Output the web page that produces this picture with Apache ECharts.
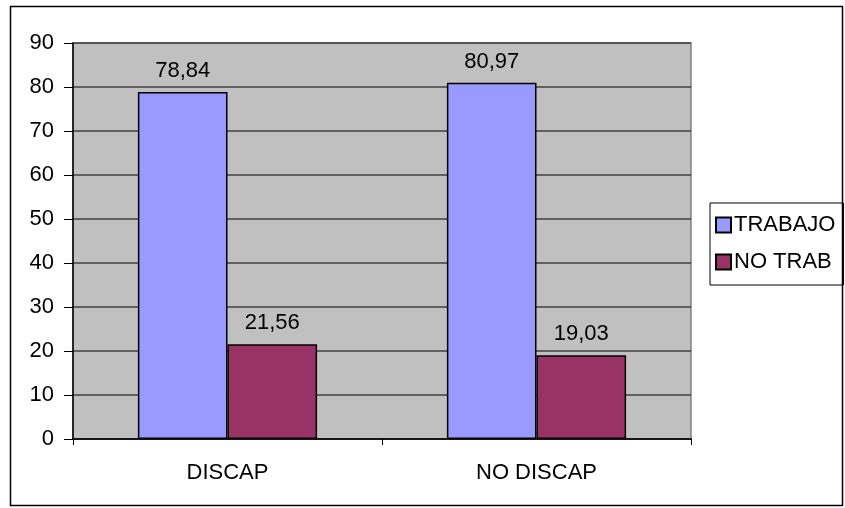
<!DOCTYPE html>
<html>
<head>
<meta charset="utf-8">
<script src="https://cdn.jsdelivr.net/npm/echarts@6/dist/echarts.min.js"></script>
<style>
html, body { margin: 0; padding: 0; background: #fff; }
#chart { width: 845px; height: 508px; }
</style>
</head>
<body>
<div id="chart"></div>
<script>
var categories = ['DISCAP', 'NO DISCAP'];
var trabajo = [78.84, 80.97];
var noTrab = [21.56, 19.03];
var yTicks = [0, 10, 20, 30, 40, 50, 60, 70, 80, 90];

var myechart = echarts.init(document.getElementById('chart'));
var font = 'Arial, "Liberation Sans", sans-serif';

function fmt(p) {
  return String(p.value.toFixed(2)).replace('.', ',');
}

myechart.setOption({
  animation: false,
  textStyle: { fontFamily: font },
  graphic: [
    {
      type: 'rect',
      shape: { x: 10.5, y: 6.5, width: 832, height: 499 },
      style: { fill: 'none', stroke: '#000', lineWidth: 1.5 },
      silent: true
    }
  ],
  legend: {
    orient: 'vertical',
    left: 710,
    top: 203,
    padding: [11, 8, 12, 5],
    itemGap: 15,
    itemWidth: 15,
    itemHeight: 15,
    borderColor: '#000',
    borderWidth: 1,
    icon: 'rect',
    textStyle: { fontFamily: font, fontSize: 22, color: '#000', padding: [0, 0, 0, -2] },
    data: ['TRABAJO', 'NO TRAB']
  },
  grid: {
    left: 73,
    top: 43,
    width: 618,
    height: 396,
    show: true,
    backgroundColor: '#C0C0C0',
    borderColor: '#808080',
    borderWidth: 1.5
  },
  xAxis: {
    type: 'category',
    data: categories,
    axisLine: { show: true, lineStyle: { color: '#000', width: 1.5 } },
    axisTick: { show: true, alignWithLabel: false, length: 6, lineStyle: { color: '#000' } },
    axisLabel: { fontSize: 22, color: '#000', margin: 23, fontFamily: font }
  },
  yAxis: {
    type: 'value',
    min: yTicks[0],
    max: yTicks[yTicks.length - 1],
    interval: 10,
    axisLine: { show: true, lineStyle: { color: '#000', width: 1.5 } },
    axisTick: { show: true, length: 9, lineStyle: { color: '#000' } },
    axisLabel: { fontSize: 22, color: '#000', margin: 19, fontFamily: font },
    splitLine: { show: true, lineStyle: { color: '#404040', width: 1.5 } }
  },
  series: [
    {
      name: 'TRABAJO',
      type: 'bar',
      data: trabajo,
      barGap: '0%',
      barCategoryGap: '42%',
      itemStyle: { color: '#9999FF', borderColor: '#000', borderWidth: 1.5 },
      label: { show: true, position: 'top', distance: 10, fontSize: 22, color: '#000', formatter: fmt }
    },
    {
      name: 'NO TRAB',
      type: 'bar',
      data: noTrab,
      itemStyle: { color: '#993366', borderColor: '#000', borderWidth: 1.5 },
      label: { show: true, position: 'top', distance: 10, fontSize: 22, color: '#000', formatter: fmt }
    }
  ]
});
</script>
</body>
</html>
